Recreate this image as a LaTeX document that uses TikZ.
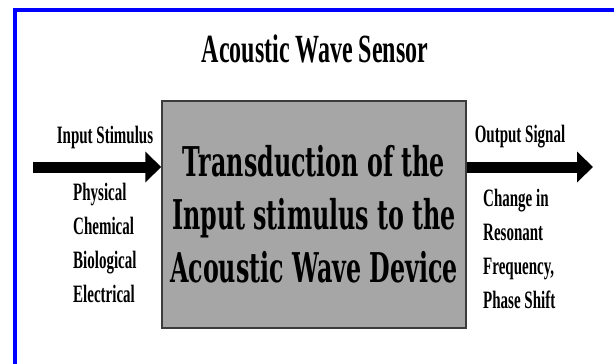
\documentclass[tikz,border=0pt]{standalone}
\usepackage{fontspec}
\usetikzlibrary{arrows.meta}
\newfontfamily\labelfont{Liberation Serif}[FakeStretch=0.6]
\newfontfamily\boxfont{DejaVu Serif}[FakeStretch=0.58]
\definecolor{frameblue}{RGB}{0,0,255}
\definecolor{boxgray}{RGB}{166,166,166}
\definecolor{boxedge}{RGB}{60,60,60}
\tikzset{
  titletext/.style={font=\labelfont\bfseries\fontsize{40}{48}\selectfont, inner sep=0pt},
  sidetext/.style={font=\labelfont\bfseries\fontsize{25}{34}\selectfont, align=left, inner sep=0pt},
  devbox/.style={draw=boxedge, line width=1.5pt, fill=boxgray, minimum width=304pt,
    minimum height=227pt, align=center, inner sep=0pt,
    font=\boxfont\bfseries\fontsize{41}{53}\selectfont},
  bigarrow/.style={line width=11pt, -{Triangle[length=16pt,width=30pt]}}
}
\begin{document}
\begin{tikzpicture}[x=1pt,y=-1pt]
  \useasboundingbox (0,0) rectangle (614,364);
  \fill[white] (0,0) rectangle (614,364);
  \draw[frameblue, line width=3.5pt] (15,10) rectangle (640,390);
  \node[titletext, anchor=base] (title) at (315,62) {Acoustic Wave Sensor};
  \node[devbox] (dev) at (314,214.5)
    {Transduction of the\\Input stimulus to the\\Acoustic Wave Device};
  % multi-line nodes: base is the last line
  \node[sidetext, anchor=base] (inlbl) at (105,143) {Input Stimulus};
  \node[sidetext, anchor=base west] (inkinds) at (73,302)
    {Physical\\Chemical\\Biological\\Electrical};
  \node[sidetext, anchor=base] (outlbl) at (520,142) {Output Signal};
  \node[sidetext, anchor=base west] (outkinds) at (483,308)
    {Change in\\Resonant\\Frequency,\\Phase Shift};
  \coordinate (in) at (33,167);
  \coordinate (out) at (593,167);
  \draw[bigarrow] (in) -- (in -| dev.west);
  \draw[bigarrow] (out -| dev.east) -- (out);
\end{tikzpicture}
\end{document}
